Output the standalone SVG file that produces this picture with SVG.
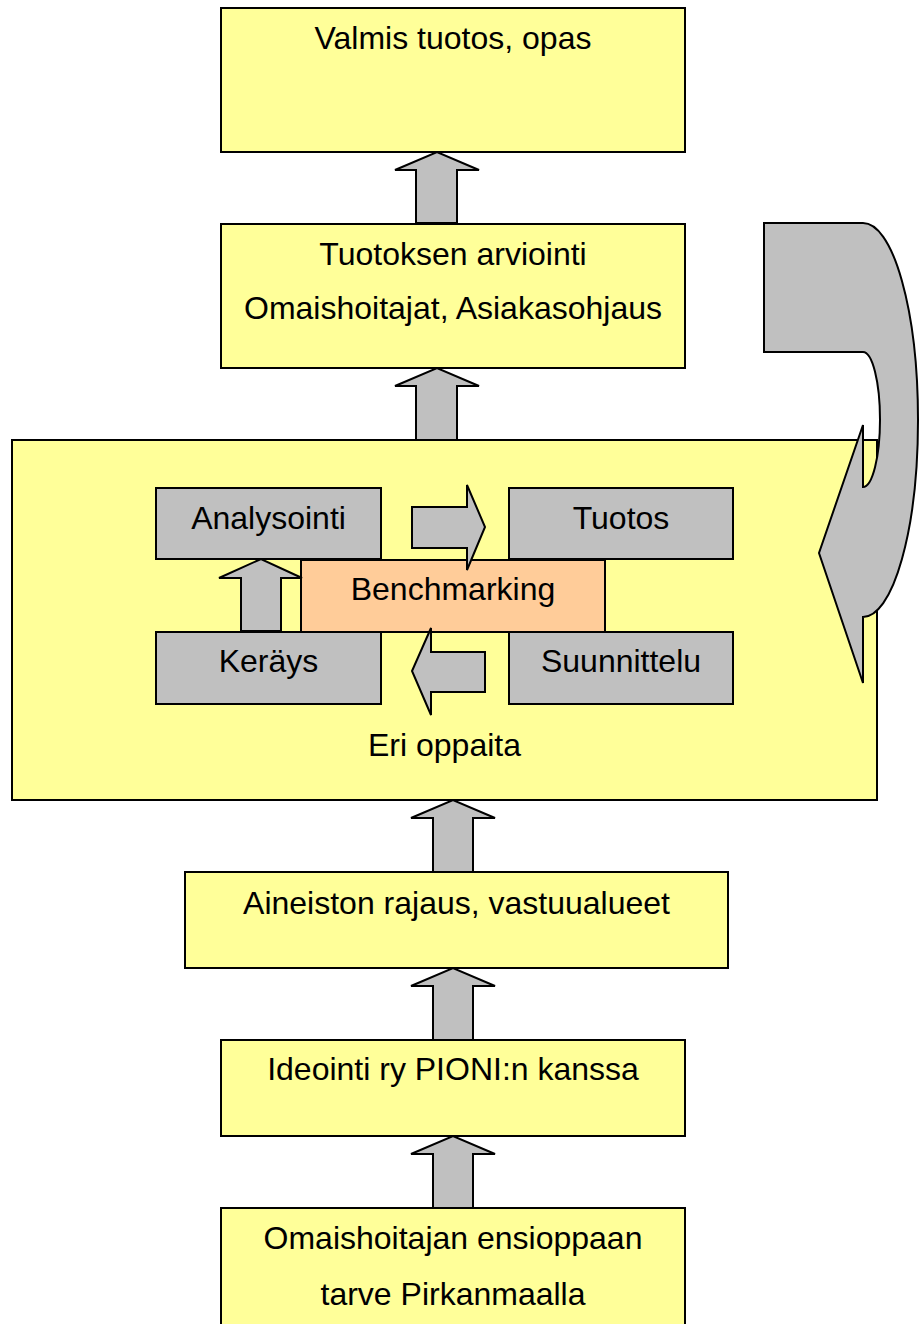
<svg xmlns="http://www.w3.org/2000/svg" width="919" height="1324" viewBox="0 0 919 1324">
<style>
.y{fill:#FFFF99;stroke:#000;stroke-width:2}
.g{fill:#C0C0C0;stroke:#000;stroke-width:2}
.o{fill:#FFCC99;stroke:#000;stroke-width:2}
.a{fill:#C0C0C0;stroke:#000;stroke-width:2;stroke-linejoin:miter}
text{font-family:"Liberation Sans",Arial,sans-serif;font-size:32px;fill:#000;text-anchor:middle}
</style>
<rect width="919" height="1324" fill="#fff"/>
<g id="valmis"><rect class="y" x="221" y="8" width="464" height="144"/><text x="453" y="49">Valmis tuotos, opas</text></g>
<g id="arviointi"><rect class="y" x="221" y="224" width="464" height="144"/><text x="453" y="265">Tuotoksen arviointi</text><text x="453" y="319">Omaishoitajat, Asiakasohjaus</text></g>
<g id="oppaita"><rect class="y" x="12" y="440" width="865" height="360"/><text x="444.5" y="756">Eri oppaita</text></g>
<g id="analysointi"><rect class="g" x="156" y="488" width="225" height="71"/><text x="268.5" y="529">Analysointi</text></g>
<g id="tuotos"><rect class="g" x="509" y="488" width="224" height="71"/><text x="621" y="529">Tuotos</text></g>
<g id="kerays"><rect class="g" x="156" y="632" width="225" height="72"/><text x="268.5" y="672">Keräys</text></g>
<g id="suunnittelu"><rect class="g" x="509" y="632" width="224" height="72"/><text x="621" y="672">Suunnittelu</text></g>
<g id="benchmarking"><rect class="o" x="301" y="560" width="304" height="72"/><text x="453" y="600">Benchmarking</text></g>
<g id="aineiston"><rect class="y" x="185" y="872" width="543" height="96"/><text x="456.5" y="914">Aineiston rajaus, vastuualueet</text></g>
<g id="ideointi"><rect class="y" x="221" y="1040" width="464" height="96"/><text x="453" y="1080">Ideointi ry PIONI:n kanssa</text></g>
<g id="tarve"><rect class="y" x="221" y="1208" width="464" height="140"/><text x="453" y="1249">Omaishoitajan ensioppaan</text><text x="453" y="1305">tarve Pirkanmaalla</text></g>
<g id="connectors">
<path class="a" d="M416 223 L416 170 L395 170 L437 152 L479 170 L457 170 L457 223 Z"/>
<path class="a" d="M416 440 L416 386 L395 386 L437 368 L479 386 L457 386 L457 440 Z"/>
<path class="a" d="M433 872 L433 818 L411 818 L453 800 L495 818 L473 818 L473 872 Z"/>
<path class="a" d="M433 1040 L433 986 L411 986 L453 968 L495 986 L473 986 L473 1040 Z"/>
<path class="a" d="M433 1208 L433 1154 L411 1154 L453 1136 L495 1154 L473 1154 L473 1208 Z"/>
<path class="a" d="M412 507 L467 507 L467 485 L485 527 L467 570 L467 548 L412 548 Z"/>
<path class="a" d="M485 652 L431 652 L431 628 L412 671 L431 715 L431 692 L485 692 Z"/>
<path class="a" d="M241 631 L241 578 L219 578 L261 559 L302 578 L281 578 L281 631 Z"/>
<path class="a" d="M764 223 L863 223 A55 197 0 0 1 863 617 L863 683 L819 553 L863 425 L863 487 A17 67.5 0 0 0 863 352 L764 352 Z"/>
</g>
</svg>
